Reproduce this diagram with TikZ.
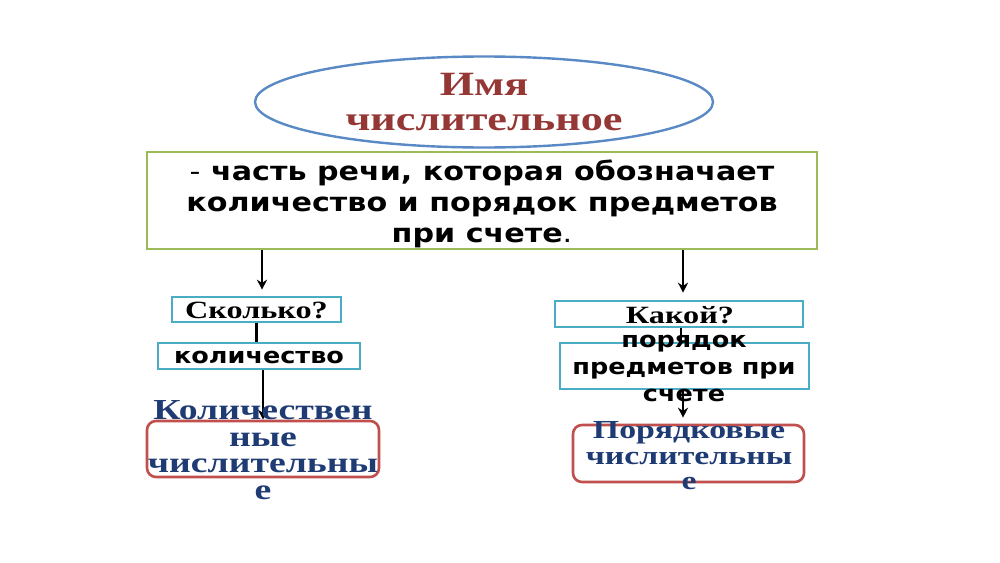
\documentclass[tikz,border=0pt]{standalone}
\usepackage{fontspec}
\setmainfont{Liberation Serif}
\newfontfamily\ser[FakeStretch=1.3]{Liberation Serif}
\newfontfamily\san[FakeStretch=1.16]{DejaVu Sans}
\usetikzlibrary{shapes.geometric,arrows.meta}
\definecolor{ellblue}{HTML}{5A8AC6}
\definecolor{titred}{HTML}{953735}
\definecolor{grn}{HTML}{9BBB59}
\definecolor{cyanb}{HTML}{4BACC6}
\definecolor{redb}{HTML}{C0504D}
\definecolor{dblue}{HTML}{1F3B73}
\begin{document}
\begin{tikzpicture}[x=1pt,y=-1pt,
  box/.style={draw=cyanb,line width=2.6pt,inner sep=0pt},
  redbox/.style={draw=redb,line width=2.6pt,rounded corners=9pt,inner sep=0pt},
  sertxt/.style={font=\ser\bfseries\fontsize{24.8}{27}\selectfont,align=center,inner sep=0pt},
  santxt/.style={font=\san\bfseries\fontsize{22}{27}\selectfont,align=center,inner sep=0pt},
  conn/.style={draw=black,line width=2.6pt},
  arr/.style={conn,-{Stealth[length=10pt,width=10pt]}}]
\useasboundingbox[fill=white] (0,0) rectangle (1000,562);
% title ellipse
\node[ellipse,draw=ellblue,line width=2.4pt,minimum width=458pt,minimum height=91pt,inner sep=0pt,
  text=titred,font=\ser\bfseries\fontsize{34}{35}\selectfont,align=center] (ell) at (484,102) {Имя\\числительное};
% definition box
\node[draw=grn,line width=2.6pt,minimum width=670pt,minimum height=97pt,inner sep=0pt] (def) at (482,200.5) {};
\node[font=\san\bfseries\fontsize{26}{31}\selectfont,align=center,inner sep=0pt] (deft) at (482,203.5)
  {{\mdseries -} часть речи, которая обозначает\\количество и порядок предметов\\при счете{\mdseries .}};
% left branch
\node[box,minimum width=169pt,minimum height=25pt] (q1) at (256.5,309.5) {};
\node[sertxt] (q1t) at (256.5,310) {Сколько?};
\node[box,minimum width=202pt,minimum height=26pt] (k1) at (259,356) {};
\node[santxt] (k1t) at (259,357) {количество};
\node[redbox,minimum width=232pt,minimum height=56pt] (r1) at (263,449) {};
% right branch
\node[box,minimum width=248pt,minimum height=26pt] (q2) at (679,314) {};
\node[box,minimum width=249pt,minimum height=46pt] (k2) at (684.5,366) {};
\node[redbox,minimum width=231pt,minimum height=57pt] (r2) at (688.5,453.5) {};
% connectors
\draw[arr] ([xshift=5.5pt]q1.north |- def.south) -- ([xshift=5.5pt]q1.north) [shorten >=6pt];
\draw[conn] (q1.south) -- (q1.south |- k1.north);
\draw[arr] ([xshift=4pt]k1.south) -- ([xshift=4pt]k1.south |- r1.north);
\draw[arr] ([xshift=4pt]q2.north |- def.south) -- ([xshift=4pt]q2.north) [shorten >=7pt];
\draw[conn] ([xshift=2pt]q2.south) -- ([xshift=2pt]q2.south |- k2.north);
\draw[arr] ([xshift=-1.5pt]k2.south) -- ([xshift=-1.5pt]k2.south |- r2.north) [shorten >=6pt];
% texts over boxes
\node[sertxt] (q2t) at (680,315) {Какой?};
\node[santxt] (k2t) at (684,368) {порядок\\предметов при\\счете};
\node[sertxt,text=dblue,font=\ser\bfseries\fontsize{29}{26.7}\selectfont] (r1t) at (263,450)
  {Количествен\\ные\\числительны\\е};
\node[sertxt,text=dblue,font=\ser\bfseries\fontsize{26}{25.5}\selectfont] (r2t) at (689,456)
  {Порядковые\\числительны\\е};
\end{tikzpicture}
\end{document}
